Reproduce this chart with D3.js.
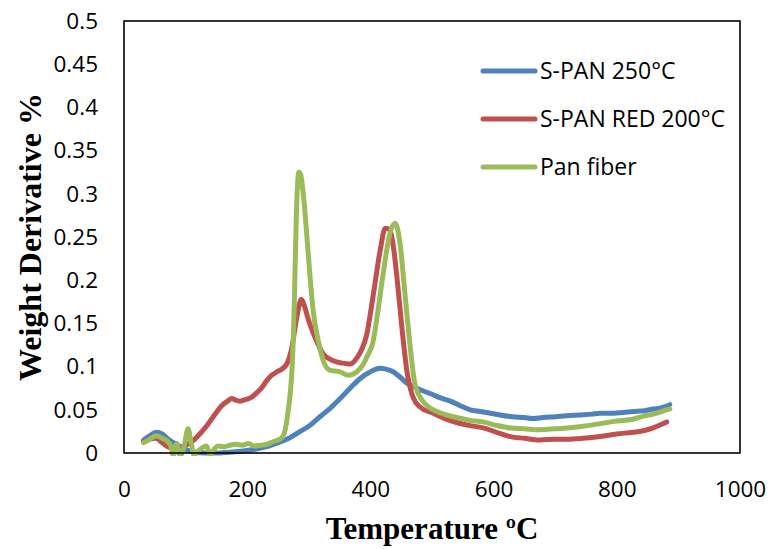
<!DOCTYPE html>
<html>
<head>
<meta charset="utf-8">
<script src="https://cdn.jsdelivr.net/npm/d3@7"></script>
<style>
  body { margin: 0; background: #fff; }
  svg { display: block; }
</style>
</head>
<body>
<div class="chart"></div>
<script>
// tick labels
const xTicks = [0, 200, 400, 600, 800, 1000];
const yTicks = [0, 0.05, 0.1, 0.15, 0.2, 0.25, 0.3, 0.35, 0.4, 0.45, 0.5];
const yTickLabels = ["0", "0.05", "0.1", "0.15", "0.2", "0.25", "0.3", "0.35", "0.4", "0.45", "0.5"];

const seriesNames = ["S-PAN 250°C", "S-PAN RED 200°C", "Pan fiber"];

// [temperature, weight derivative]
const span250 = [
  [32,0.015],[42,0.02],[52,0.024],[62,0.022],[72,0.016],[85,0.01],[100,0.004],[115,0.001],
  [130,0],[150,0],[170,0.001],[190,0.002],[210,0.004],[230,0.007],[250,0.012],[270,0.018],
  [286,0.025],[300,0.031],[318,0.042],[335,0.052],[351,0.063],[367,0.075],[383,0.086],
  [400,0.094],[416,0.098],[425,0.097],[437,0.094],[448,0.088],[459,0.081],[472,0.076],
  [485,0.072],[500,0.068],[513,0.064],[530,0.06],[545,0.055],[562,0.05],[578,0.048],
  [595,0.046],[610,0.044],[630,0.042],[650,0.041],[664,0.04],[680,0.041],[700,0.042],
  [719,0.043],[740,0.044],[760,0.045],[773,0.046],[790,0.046],[810,0.047],[826,0.048],
  [845,0.049],[860,0.051],[870,0.052],[880,0.054],[886,0.056]
];

const spanRed200 = [
  [32,0.013],[42,0.016],[52,0.017],[62,0.012],[72,0.007],[85,0.005],[97,0.008],[110,0.013],
  [123,0.022],[136,0.033],[148,0.045],[159,0.055],[168,0.06],[175,0.063],[182,0.061],
  [188,0.06],[198,0.062],[208,0.065],[216,0.07],[224,0.076],[232,0.084],[240,0.09],
  [248,0.094],[256,0.097],[265,0.104],[272,0.12],[280,0.155],[288,0.178],[293,0.17],
  [299,0.155],[310,0.134],[323,0.115],[339,0.107],[355,0.104],[367,0.103],[378,0.11],
  [386,0.12],[394,0.137],[404,0.18],[416,0.235],[424,0.26],[432,0.258],[438,0.235],
  [443,0.204],[451,0.146],[459,0.096],[469,0.065],[481,0.053],[502,0.046],[520,0.04],
  [541,0.035],[560,0.032],[583,0.029],[605,0.024],[627,0.019],[650,0.017],[675,0.015],
  [700,0.016],[719,0.016],[745,0.017],[773,0.019],[800,0.022],[826,0.024],[845,0.026],
  [859,0.029],[872,0.033],[881,0.036]
];

const panFiber = [
  [32,0.012],[42,0.016],[52,0.02],[62,0.017],[70,0.014],[76,0.008],[80,-0.003],[86,0.011],
  [91,-0.003],[97,0.006],[104,0.028],[109,0.012],[114,-0.003],[120,0.002],[127,0.006],
  [134,0.008],[140,-0.002],[146,0.004],[153,0.008],[162,0.007],[172,0.009],[182,0.01],
  [192,0.009],[202,0.011],[212,0.008],[222,0.009],[232,0.01],[242,0.013],[250,0.015],
  [257,0.018],[262,0.028],[266,0.046],[270,0.07],[273,0.1],[276,0.16],[278,0.223],
  [281,0.3],[284,0.325],[287,0.322],[291,0.3],[297,0.25],[302,0.204],[307,0.165],
  [315,0.131],[323,0.108],[334,0.096],[351,0.094],[364,0.09],[378,0.094],[388,0.102],
  [394,0.111],[404,0.128],[411,0.158],[420,0.204],[432,0.255],[440,0.266],[448,0.243],
  [456,0.185],[464,0.127],[472,0.081],[484,0.061],[497,0.052],[515,0.046],[541,0.041],
  [560,0.038],[583,0.036],[605,0.032],[627,0.029],[650,0.028],[675,0.027],[700,0.028],
  [719,0.029],[745,0.031],[773,0.034],[790,0.036],[800,0.037],[826,0.039],[845,0.043],
  [859,0.045],[872,0.048],[886,0.051]
];

const colors = ["#4F81BD", "#C0504D", "#9BBB59"];

const width = 771, height = 549;
const svg = d3.select(".chart").append("svg")
  .attr("width", width)
  .attr("height", height);

svg.append("rect").attr("width", width).attr("height", height).attr("fill", "#fff");

const x = d3.scaleLinear().domain([0, 1000]).range([124, 740]);
const y = d3.scaleLinear().domain([0, 0.5]).range([453, 21]);

// clip like excel does at the plot area
svg.append("clipPath").attr("id", "plotClip")
  .append("rect")
  .attr("x", 124).attr("y", 21)
  .attr("width", 616).attr("height", 432 + 3);

// axes (labels only)
const yAxis = svg.append("g")
  .attr("transform", "translate(124,0)")
  .call(d3.axisLeft(y).tickValues(yTicks).tickSize(0).tickPadding(26)
    .tickFormat((d, i) => yTickLabels[i]));
const xAxis = svg.append("g")
  .attr("transform", "translate(0,453)")
  .call(d3.axisBottom(x).tickValues(xTicks).tickSize(0).tickPadding(28)
    .tickFormat(d3.format("d")));

[xAxis, yAxis].forEach(g => {
  g.select(".domain").remove();
  g.selectAll("text")
    .style("font-family", "'Open Sans', sans-serif")
    .style("font-size", "22.5px")
    .attr("fill", "#000");
});

// lines
const line = d3.line()
  .x(d => x(d[0]))
  .y(d => y(d[1]))
  .curve(d3.curveMonotoneX);

const plot = svg.append("g").attr("clip-path", "url(#plotClip)");
[span250, spanRed200, panFiber].forEach((data, i) => {
  plot.append("path")
    .datum(data)
    .attr("d", line)
    .attr("fill", "none")
    .attr("stroke", colors[i])
    .attr("stroke-width", 5)
    .attr("stroke-linejoin", "round")
    .attr("stroke-linecap", "round");
});

// frame
svg.append("rect")
  .attr("x", 124).attr("y", 21)
  .attr("width", 616).attr("height", 432)
  .attr("fill", "none")
  .attr("stroke", "#000")
  .attr("stroke-width", 1.6);

// legend
const legend = svg.append("g");
seriesNames.forEach((name, i) => {
  const ly = 71 + i * 48;
  legend.append("line")
    .attr("x1", 483).attr("x2", 535)
    .attr("y1", ly).attr("y2", ly)
    .attr("stroke", colors[i])
    .attr("stroke-width", 5)
    .attr("stroke-linecap", "round");
  legend.append("text")
    .attr("x", 540).attr("y", ly + 8)
    .style("font-family", "'Open Sans', sans-serif")
    .style("font-size", "23px")
    .attr("fill", "#000")
    .text(name);
});

// axis titles
svg.append("text")
  .attr("x", 432).attr("y", 539)
  .attr("text-anchor", "middle")
  .style("font-family", "'Liberation Serif', 'Times New Roman', serif")
  .style("font-weight", "bold")
  .style("font-size", "31px")
  .text("Temperature ºC");

svg.append("text")
  .attr("transform", "translate(41,237) rotate(-90)")
  .attr("text-anchor", "middle")
  .style("font-family", "'Liberation Serif', 'Times New Roman', serif")
  .style("font-weight", "bold")
  .style("font-size", "32px")
  .text("Weight Derivative %");
</script>
</body>
</html>
